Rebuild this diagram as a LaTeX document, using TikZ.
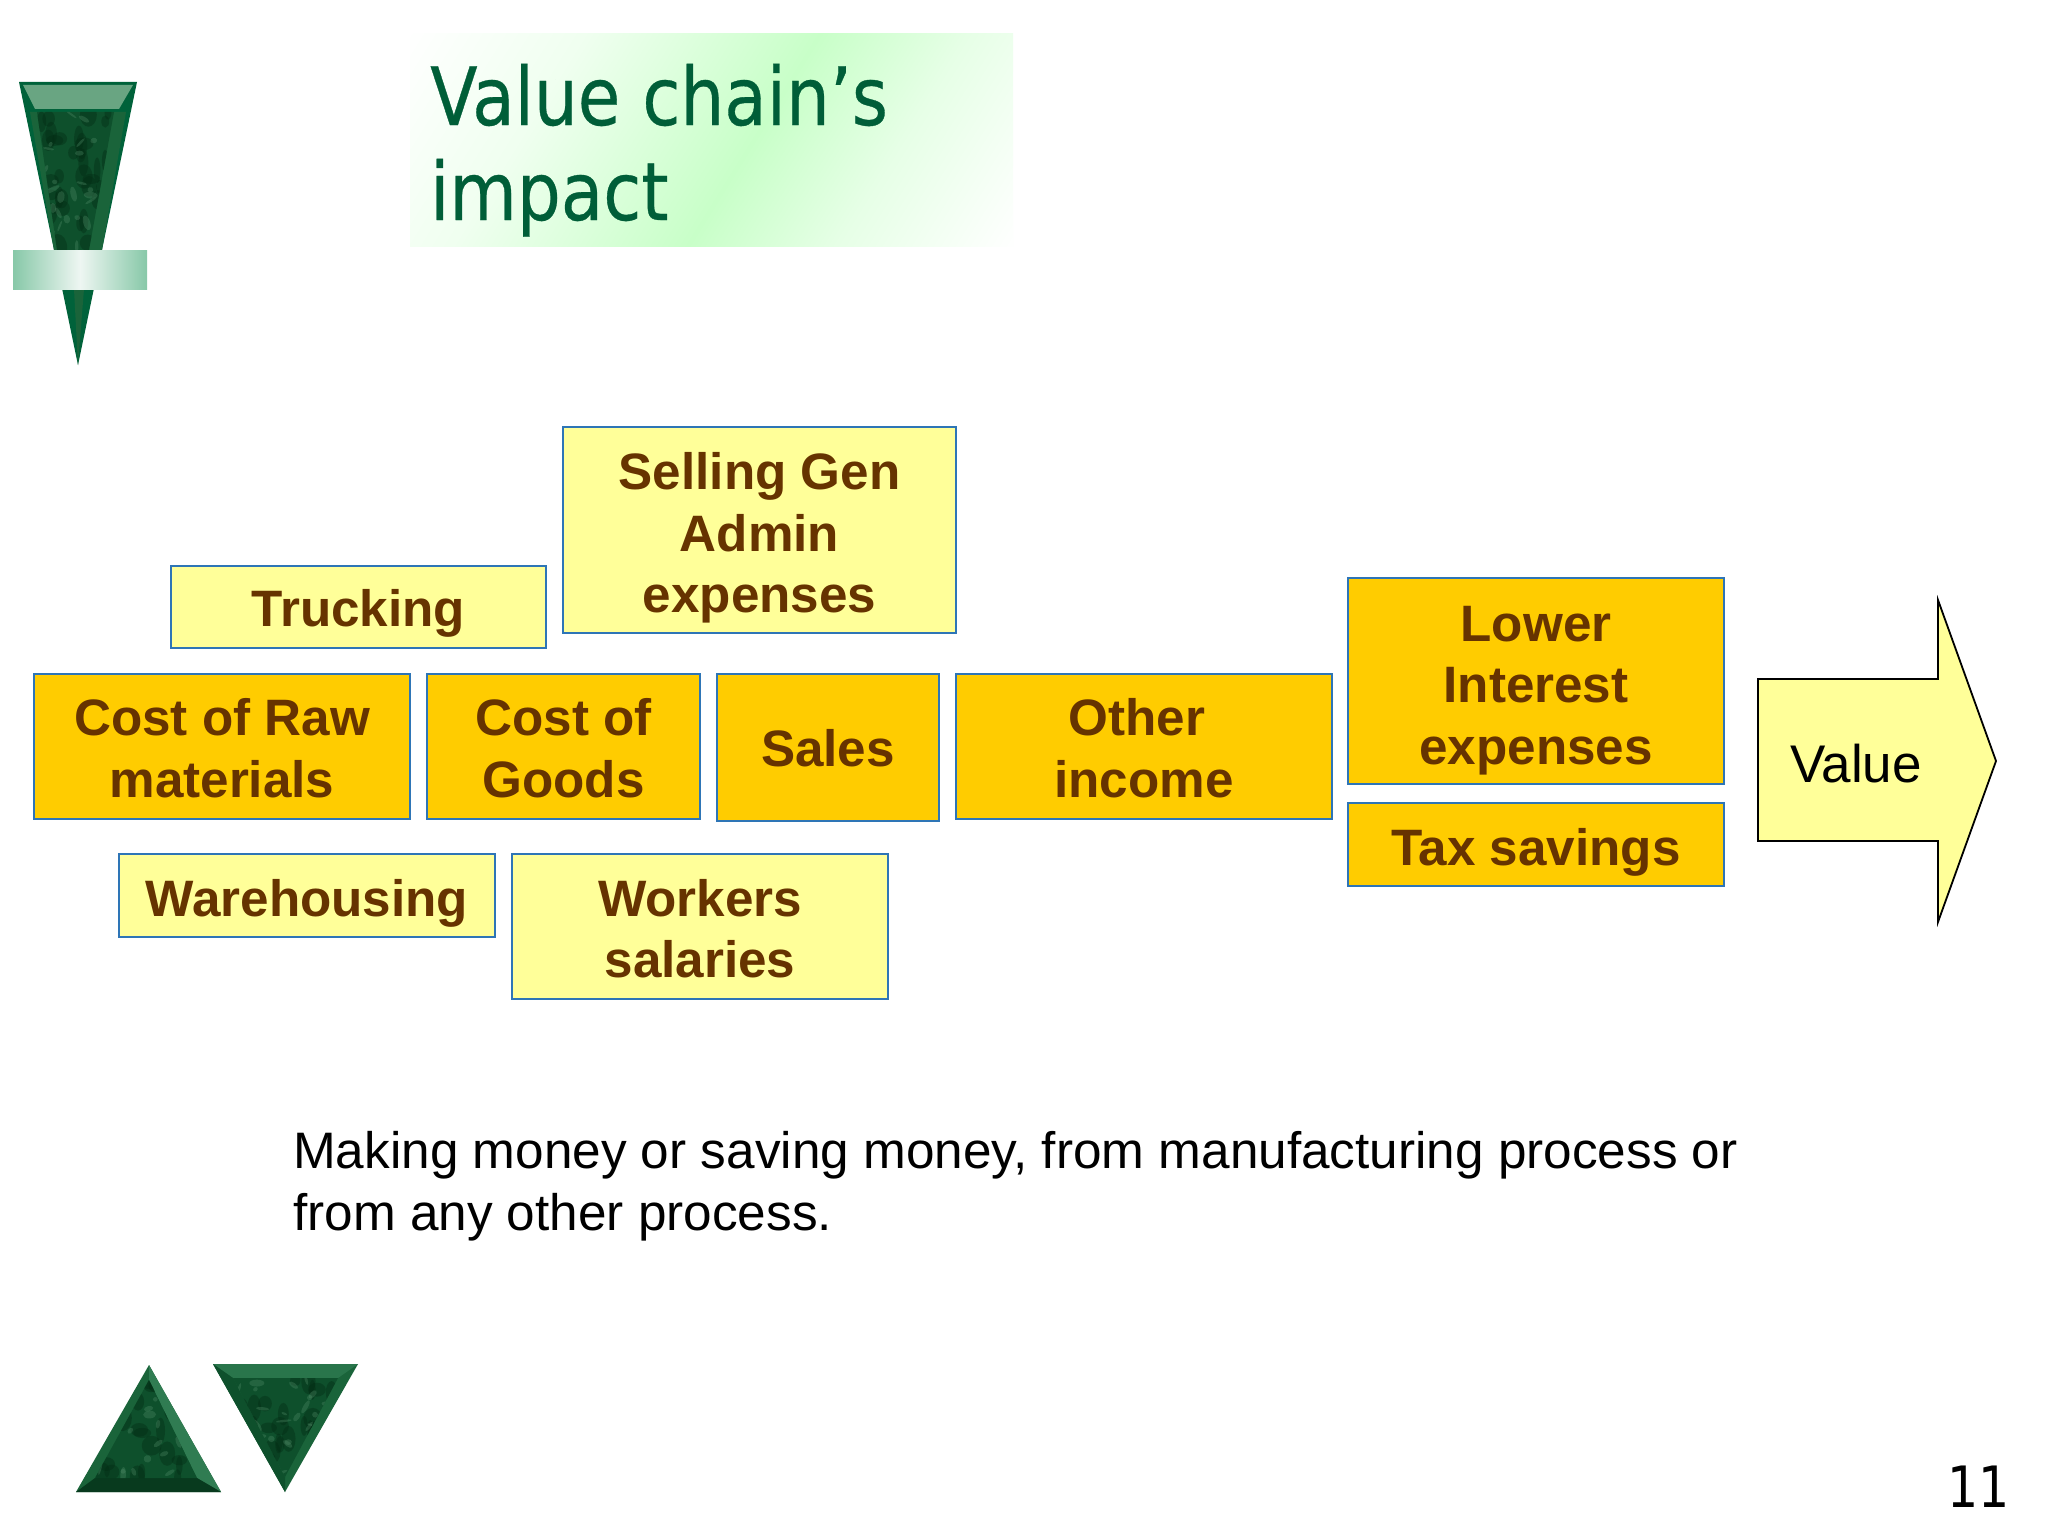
\documentclass[tikz,border=0pt]{standalone}
\usepackage{fontspec}
\setmainfont{Liberation Sans}
\newfontfamily\titlefont[FakeStretch=0.86,FakeBold=0.4]{DejaVu Sans}
\newfontfamily\pagefont[FakeStretch=0.86]{DejaVu Sans}
\usetikzlibrary{calc}
\definecolor{boxblue}{RGB}{46,117,182}
\definecolor{paleyellow}{RGB}{255,255,153}
\definecolor{amber}{RGB}{255,204,0}
\definecolor{brownink}{RGB}{102,51,0}
\definecolor{titlegreen}{RGB}{0,94,56}
\definecolor{titlepeak}{RGB}{200,255,200}
\definecolor{gA}{RGB}{14,80,44}
\definecolor{gB}{RGB}{26,100,58}
\definecolor{gC}{RGB}{48,124,82}
\definecolor{gD}{RGB}{8,58,30}
\definecolor{gE}{RGB}{84,145,108}
\definecolor{gF}{RGB}{3,44,20}
\definecolor{bandg}{RGB}{135,200,168}
\definecolor{bandw}{RGB}{238,246,242}
\definecolor{pinface}{RGB}{0,98,58}
\definecolor{pinlight}{RGB}{105,165,130}
\pgfdeclarehorizontalshading{titleshade}{100bp}{
 color(0bp)=(white); color(17bp)=(white!72!titlepeak); color(39bp)=(titlepeak); color(53bp)=(white!55!titlepeak); color(70bp)=(white)}
\newcommand{\marbletex}[5]{%
 \pgfmathsetseed{#5}%
 \foreach \k in {1,...,40}{%
  \pgfmathsetmacro\mx{#1+rnd*#3}\pgfmathsetmacro\my{#2+rnd*#4}\pgfmathsetmacro\mr{5+rnd*9}\pgfmathsetmacro\ms{3+rnd*7}%
  \fill[gF,opacity=.4] (\mx,\my) ellipse ({\ms} and {\mr});}%
 \foreach \k in {1,...,30}{%
  \pgfmathsetmacro\mx{#1+rnd*#3}\pgfmathsetmacro\my{#2+rnd*#4}\pgfmathsetmacro\mr{1+rnd*3}\pgfmathsetmacro\ms{2+rnd*6}\pgfmathsetmacro\ma{rnd*180}%
  \fill[gE,opacity=.32,rotate around={\ma:(\mx,\my)}] (\mx,\my) ellipse ({\ms} and {\mr});}%
}
\newcommand{\lift}[1]{\rule{0pt}{#1pt}}
\tikzset{
 x=1pt,y=-1pt,
 tile/.style={draw=boxblue,line width=2pt,inner sep=0pt,align=center,text=brownink,
   font=\fontsize{51.2}{61.5}\selectfont\bfseries},
 pale/.style={tile,fill=paleyellow},
 gold/.style={tile,fill=amber},
 plain/.style={font=\fontsize{51.3}{61.5}\selectfont,text=black,inner sep=0pt},
}
\begin{document}
\begin{tikzpicture}
\useasboundingbox (0,0) rectangle (2048,1536);
\fill[white] (0,0) rectangle (2048,1536);
% title
\begin{scope}
 \clip (410,34) rectangle (1013,246);
 \fill[shading=titleshade,shading angle=-32] (410,34) rectangle (1013,246);
\end{scope}
\node[anchor=base west,inner sep=0pt,text=titlegreen,align=left,font=\fontsize{80.5}{95}\selectfont\titlefont] (title) at (430,220) {Value chain’s\\impact};
% pin
\fill[pinface] (19,82) -- (137,82) -- (78,365) -- cycle;
\fill[pinlight] (23,85) -- (133,85) -- (119,109) -- (35,109) -- cycle;
\fill[gB] (30,112) -- (126,112) -- (102,250) -- (54,250) -- cycle;
\begin{scope}
 \clip (37,112) -- (114,112) -- (89,250) -- (57,250) -- cycle;
 \fill[gA] (30,110) rectangle (120,252);
 \marbletex{35}{112}{80}{138}{11}
\end{scope}
\fill[gB] (74,289) -- (84,289) -- (78,365) -- cycle;
\fill[left color=bandg,right color=bandg,middle color=bandw] (13,250) rectangle (147,289);
% bottom triangles
\fill[gB] (149,1365) -- (76,1492) -- (221,1492) -- cycle;
\fill[gC] (149,1365) -- (221,1492) -- (197,1478) -- (149,1380) -- cycle;
\fill[gD] (76,1492) -- (221,1492) -- (197,1478) -- (95,1478) -- cycle;
\begin{scope}
 \clip (149,1380) -- (95,1478) -- (197,1478) -- cycle;
 \fill[gA] (90,1375) rectangle (200,1480);
 \marbletex{95}{1380}{102}{98}{23}
\end{scope}
\fill[gB] (213,1364) -- (358,1364) -- (285,1492) -- cycle;
\fill[gC!70!gB] (213,1364) -- (358,1364) -- (338,1378) -- (233,1378) -- cycle;
\fill[gA] (213,1364) -- (233,1378) -- (285,1477) -- (285,1492) -- cycle;
\begin{scope}
 \clip (233,1378) -- (338,1378) -- (285,1477) -- cycle;
 \fill[gA] (230,1375) rectangle (340,1480);
 \marbletex{233}{1378}{105}{99}{37}
\end{scope}
% tiles
\node[pale,minimum width=393pt,minimum height=206pt] (sga) at (759.5,530) {\lift{53}Selling Gen\\Admin\\expenses};
\node[pale,minimum width=375pt,minimum height=82pt] (truck) at (358.5,606.5) {\lift{51}Trucking};
\node[gold,minimum width=376pt,minimum height=145pt] (raw) at (222,746.5) {\lift{40}Cost of Raw\\materials};
\node[gold,minimum width=273pt,minimum height=145pt] (goods) at (563.5,746.5) {\lift{40}Cost of\\Goods};
\node[gold,minimum width=222pt,minimum height=147pt] (sales) at (828,747) {\lift{40}Sales};
\node[gold,minimum width=376pt,minimum height=145pt] (other) at (1144,746.5) {\lift{40}Other\hspace*{.278em}\\income};
\node[gold,minimum width=376pt,minimum height=206pt] (lower) at (1536,681) {\lift{54}Lower\\Interest\\expenses};
\node[gold,minimum width=376pt,minimum height=83pt] (tax) at (1536,844.5) {\lift{53}Tax savings};
\node[pale,minimum width=376pt,minimum height=83pt] (ware) at (307,895.5) {\lift{53}Warehousing};
\node[pale,minimum width=376pt,minimum height=145pt] (work) at (700,926) {\lift{42}Workers\\salaries};
% value arrow
\draw[fill=paleyellow,draw=black,line width=1.8pt,miter limit=20] (1758,679) -- (1938,679) -- (1938,600) -- (1996,761) -- (1938,922) -- (1938,841) -- (1758,841) -- cycle;
\node[plain,anchor=base west,font=\fontsize{53}{61.5}\selectfont] (value) at (1790,782) {Value};
% caption
\node[plain,anchor=base west,align=left] (cap) at (293,1230) {Making money or saving money, from manufacturing process or\\from any other process.};
\node[plain,anchor=base east,font=\fontsize{57}{61.5}\selectfont\pagefont] (page) at (2010,1507) {11};
\end{tikzpicture}
\end{document}
